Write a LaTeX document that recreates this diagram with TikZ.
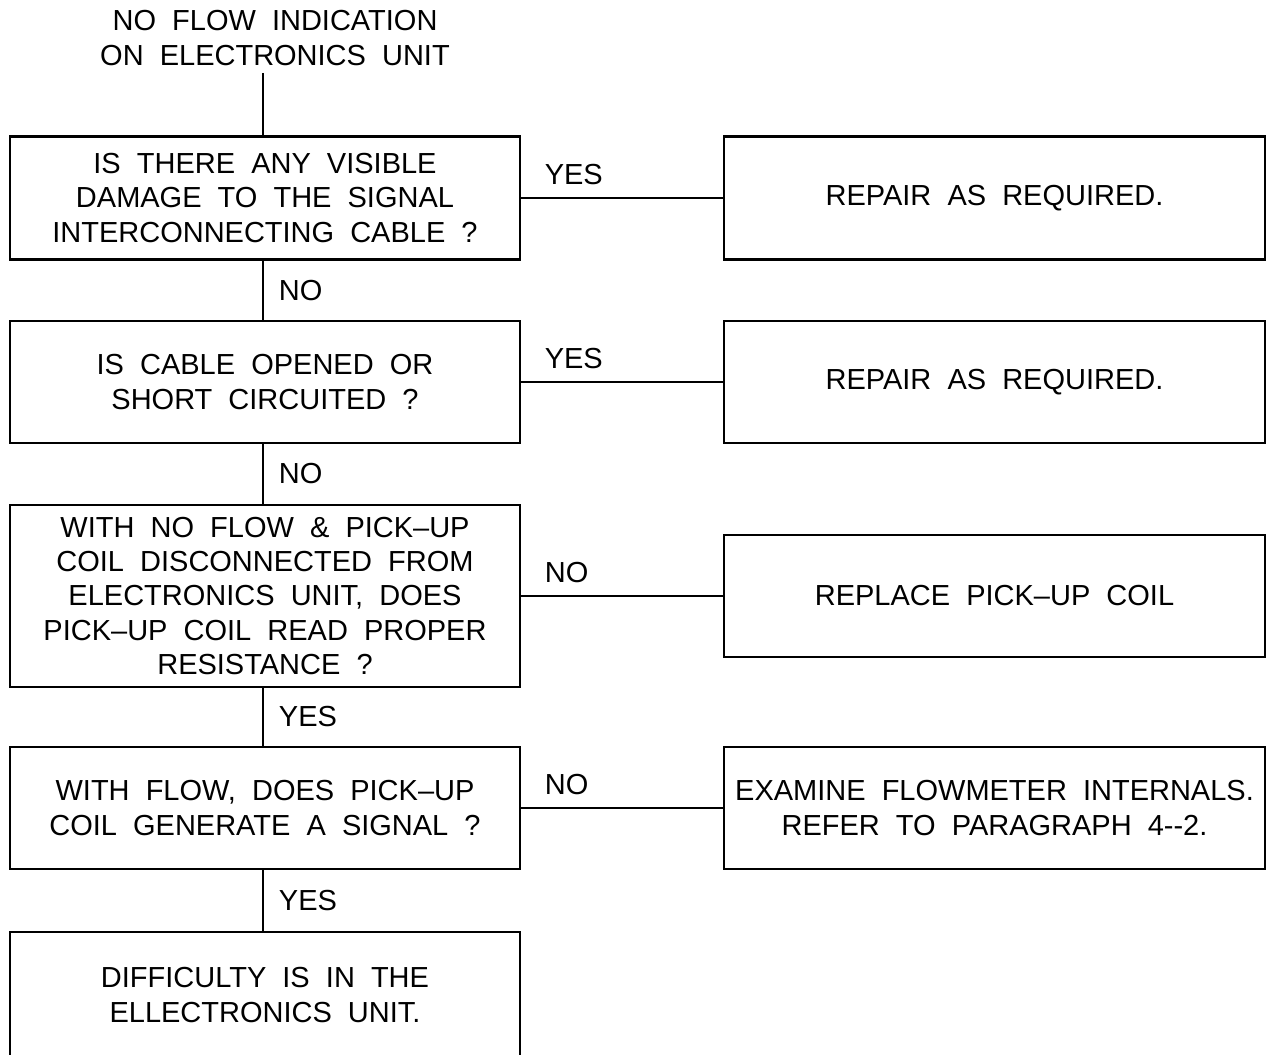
\documentclass[tikz,border=0pt]{standalone}
\usepackage{fontspec}
\setmainfont{Liberation Sans}[WordSpace=2]
\usetikzlibrary{positioning}

\begin{document}
\begin{tikzpicture}[x=0.02cm, y=-0.02cm,
    box/.style={draw, line width=1.6pt, inner sep=0pt, align=center, font=\fontsize{16.5}{19.6}\selectfont},
    lbl/.style={inner sep=0pt, font=\fontsize{16.5}{19.6}\selectfont},
    link/.style={line width=1.1pt}]
    \useasboundingbox (0,0) rectangle (1273,1054);
    \coordinate (trunk) at (263,0);
    \node[lbl, align=center, inner ysep=4pt] (start) at (275,38) {NO FLOW INDICATION\\ON ELECTRONICS UNIT};
    % question column
    \node[box, minimum width=10.2cm, minimum height=2.46cm] (q1) at (265,198) {IS THERE ANY VISIBLE\\DAMAGE TO THE SIGNAL\\INTERCONNECTING CABLE ?};
    \node[box, minimum width=10.2cm, minimum height=2.44cm] (q2) at (265,382) {IS CABLE OPENED OR\\SHORT CIRCUITED ?};
    \node[box, minimum width=10.2cm, minimum height=3.64cm] (q3) at (265,596) {WITH NO FLOW \& PICK--UP\\COIL DISCONNECTED FROM\\ELECTRONICS UNIT, DOES\\PICK--UP COIL READ PROPER\\RESISTANCE ?};
    \node[box, minimum width=10.2cm, minimum height=2.44cm] (q4) at (265,808) {WITH FLOW, DOES PICK--UP\\COIL GENERATE A SIGNAL ?};
    \node[box, minimum width=10.2cm, minimum height=2.52cm] (q5) at (265,995) {DIFFICULTY IS IN THE\\ELLECTRONICS UNIT.};
    % action column
    \node[box, minimum width=10.82cm, minimum height=2.46cm] (r1) at (994.5,198) {REPAIR AS REQUIRED.};
    \node[box, minimum width=10.82cm, minimum height=2.44cm] (r2) at (994.5,382) {REPAIR AS REQUIRED.};
    \node[box, minimum width=10.82cm, minimum height=2.44cm] (r3) at (994.5,596) {REPLACE PICK--UP COIL};
    \node[box, minimum width=10.82cm, minimum height=2.44cm] (r4) at (994.5,808) {EXAMINE FLOWMETER INTERNALS.\\REFER TO PARAGRAPH 4-{}-2.};

    \draw[link] (start.south -| trunk) -- (q1.north -| trunk);
    \foreach \a/\b/\t in {q1/q2/NO, q2/q3/NO, q3/q4/YES, q4/q5/YES} {
        \draw[link] (\a.south -| trunk) -- (\b.north -| trunk) node[lbl, midway, anchor=west, xshift=0.3cm] {\t};
    }
    \foreach \a/\b/\t in {q1/r1/YES, q2/r2/YES, q3/r3/NO, q4/r4/NO} {
        \draw[link] (\a) -- (\b) node[lbl, pos=0, anchor=south west, xshift=0.45cm, yshift=0.25cm] {\t};
    }
\end{tikzpicture}
\end{document}
